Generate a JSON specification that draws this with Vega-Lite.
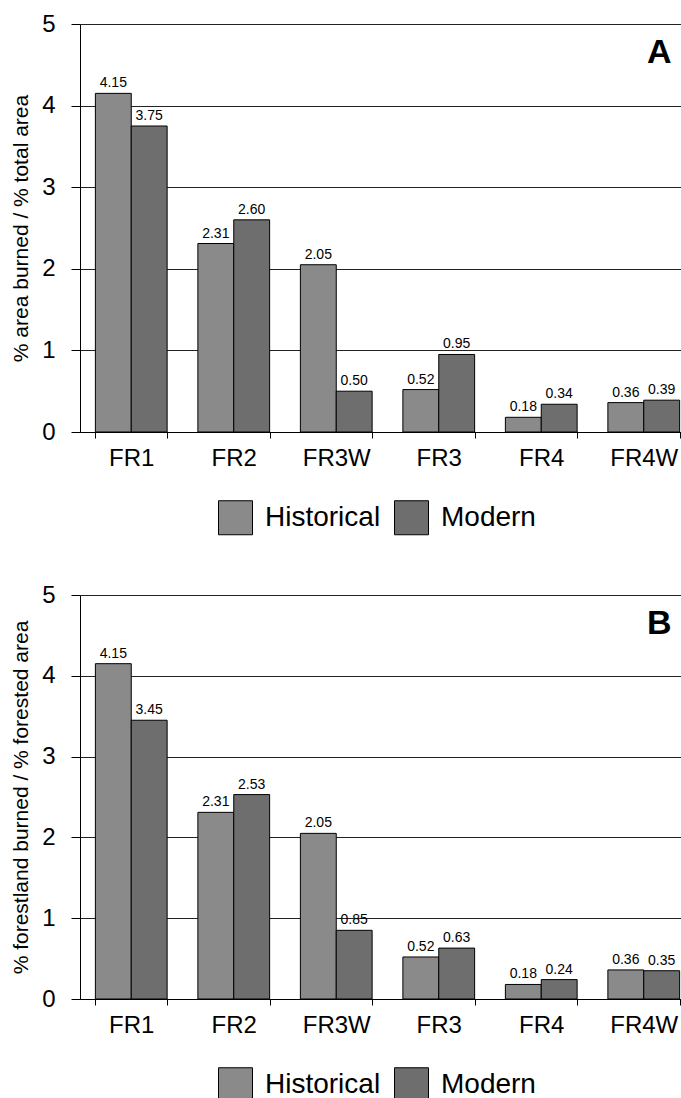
{
  "$schema": "https://vega.github.io/schema/vega-lite/v6.json",
  "background": "white",
  "padding": {"left": 10, "top": 12, "right": 0, "bottom": 0},
  "config": {
    "font": "Liberation Sans",
    "view": {"stroke": null},
    "concat": {"spacing": 46},
    "axis": {"domainColor": "black", "tickColor": "black", "labelColor": "black", "titleColor": "black", "gridColor": "#222222"},
    "legend": {"padding": 0}
  },
  "resolve": {"scale": {"fill": "independent"}, "legend": {"fill": "independent"}},
  "vconcat": [
    {
      "width": 615,
      "height": 408,
      "data": {"values": [
        {"region": "FR1", "period": "Historical", "value": 4.15},
        {"region": "FR1", "period": "Modern", "value": 3.75},
        {"region": "FR2", "period": "Historical", "value": 2.31},
        {"region": "FR2", "period": "Modern", "value": 2.60},
        {"region": "FR3W", "period": "Historical", "value": 2.05},
        {"region": "FR3W", "period": "Modern", "value": 0.50},
        {"region": "FR3", "period": "Historical", "value": 0.52},
        {"region": "FR3", "period": "Modern", "value": 0.95},
        {"region": "FR4", "period": "Historical", "value": 0.18},
        {"region": "FR4", "period": "Modern", "value": 0.34},
        {"region": "FR4W", "period": "Historical", "value": 0.36},
        {"region": "FR4W", "period": "Modern", "value": 0.39}
      ]},
      "layer": [
        {
          "mark": {"type": "bar", "stroke": "black", "strokeWidth": 1},
          "encoding": {
            "x": {"field": "region", "type": "nominal", "sort": ["FR1", "FR2", "FR3W", "FR3", "FR4", "FR4W"],
              "scale": {"paddingInner": 0.3, "paddingOuter": 0.15},
              "axis": {"title": null, "labelAngle": 0, "labelFontSize": 24, "tickBand": "extent", "tickSize": 6, "labelPadding": 8, "grid": false}},
            "xOffset": {"field": "period", "type": "nominal", "sort": ["Historical", "Modern"], "scale": {"paddingInner": 0, "paddingOuter": 0}},
            "y": {"field": "value", "type": "quantitative", "scale": {"domain": [0, 5], "nice": false},
              "axis": {"title": "% area burned / % total area", "titleFontSize": 21, "titleFontWeight": "normal", "titlePadding": 10,
                "values": [0, 0.5, 1, 1.5, 2, 2.5, 3, 3.5, 4, 4.5, 5], "format": "d",
                "labelExpr": "datum.value % 1 === 0 ? datum.label : ''",
                "labelFontSize": 24, "labelPadding": 16, "grid": true,
                "gridOpacity": {"condition": {"test": "datum.value % 1 !== 0", "value": 0}, "value": 1},
                "tickSize": {"condition": {"test": "datum.value % 1 !== 0", "value": 5}, "value": 9}}},
            "fill": {"field": "period", "type": "nominal", "scale": {"domain": ["Historical", "Modern"], "range": ["#8a8a8a", "#6e6e6e"]},
              "legend": {"title": null, "orient": "none", "legendX": 138, "legendY": 476, "direction": "horizontal",
                "symbolType": "square", "symbolSize": 1156, "symbolStrokeColor": "black", "symbolStrokeWidth": 1,
                "labelFontSize": 28, "labelColor": "black", "labelOffset": 12, "columnPadding": 11}}
          }
        },
        {
          "mark": {"type": "text", "baseline": "alphabetic", "dy": -6, "fontSize": 14, "color": "black"},
          "encoding": {
            "x": {"field": "region", "type": "nominal", "sort": ["FR1", "FR2", "FR3W", "FR3", "FR4", "FR4W"]},
            "xOffset": {"field": "period", "type": "nominal", "sort": ["Historical", "Modern"]},
            "y": {"field": "value", "type": "quantitative"},
            "text": {"field": "value", "type": "quantitative", "format": ".2f"}
          }
        },
        {
          "data": {"values": [{"label": "A"}]},
          "mark": {"type": "text", "align": "right", "baseline": "alphabetic", "fontSize": 34, "fontWeight": "bold", "color": "black", "dx": -8},
          "encoding": {
            "x": {"datum": "FR4W", "bandPosition": 1},
            "y": {"datum": 4.52},
            "text": {"field": "label"}
          }
        }
      ]
    },
    {
      "width": 615,
      "height": 404,
      "data": {"values": [
        {"region": "FR1", "period": "Historical", "value": 4.15},
        {"region": "FR1", "period": "Modern", "value": 3.45},
        {"region": "FR2", "period": "Historical", "value": 2.31},
        {"region": "FR2", "period": "Modern", "value": 2.53},
        {"region": "FR3W", "period": "Historical", "value": 2.05},
        {"region": "FR3W", "period": "Modern", "value": 0.85},
        {"region": "FR3", "period": "Historical", "value": 0.52},
        {"region": "FR3", "period": "Modern", "value": 0.63},
        {"region": "FR4", "period": "Historical", "value": 0.18},
        {"region": "FR4", "period": "Modern", "value": 0.24},
        {"region": "FR4W", "period": "Historical", "value": 0.36},
        {"region": "FR4W", "period": "Modern", "value": 0.35}
      ]},
      "layer": [
        {
          "mark": {"type": "bar", "stroke": "black", "strokeWidth": 1},
          "encoding": {
            "x": {"field": "region", "type": "nominal", "sort": ["FR1", "FR2", "FR3W", "FR3", "FR4", "FR4W"],
              "scale": {"paddingInner": 0.3, "paddingOuter": 0.15},
              "axis": {"title": null, "labelAngle": 0, "labelFontSize": 24, "tickBand": "extent", "tickSize": 6, "labelPadding": 8, "grid": false}},
            "xOffset": {"field": "period", "type": "nominal", "sort": ["Historical", "Modern"], "scale": {"paddingInner": 0, "paddingOuter": 0}},
            "y": {"field": "value", "type": "quantitative", "scale": {"domain": [0, 5], "nice": false},
              "axis": {"title": "% forestland burned / % forested area", "titleFontSize": 21, "titleFontWeight": "normal", "titlePadding": 10,
                "values": [0, 0.5, 1, 1.5, 2, 2.5, 3, 3.5, 4, 4.5, 5], "format": "d",
                "labelExpr": "datum.value % 1 === 0 ? datum.label : ''",
                "labelFontSize": 24, "labelPadding": 16, "grid": true,
                "gridOpacity": {"condition": {"test": "datum.value % 1 !== 0", "value": 0}, "value": 1},
                "tickSize": {"condition": {"test": "datum.value % 1 !== 0", "value": 5}, "value": 9}}},
            "fill": {"field": "period", "type": "nominal", "scale": {"domain": ["Historical", "Modern"], "range": ["#8a8a8a", "#6e6e6e"]},
              "legend": {"title": null, "orient": "none", "legendX": 138, "legendY": 472, "direction": "horizontal",
                "symbolType": "square", "symbolSize": 1156, "symbolStrokeColor": "black", "symbolStrokeWidth": 1,
                "labelFontSize": 28, "labelColor": "black", "labelOffset": 12, "columnPadding": 11}}
          }
        },
        {
          "mark": {"type": "text", "baseline": "alphabetic", "dy": -6, "fontSize": 14, "color": "black"},
          "encoding": {
            "x": {"field": "region", "type": "nominal", "sort": ["FR1", "FR2", "FR3W", "FR3", "FR4", "FR4W"]},
            "xOffset": {"field": "period", "type": "nominal", "sort": ["Historical", "Modern"]},
            "y": {"field": "value", "type": "quantitative"},
            "text": {"field": "value", "type": "quantitative", "format": ".2f"}
          }
        },
        {
          "data": {"values": [{"label": "B"}]},
          "mark": {"type": "text", "align": "right", "baseline": "alphabetic", "fontSize": 34, "fontWeight": "bold", "color": "black", "dx": -8},
          "encoding": {
            "x": {"datum": "FR4W", "bandPosition": 1},
            "y": {"datum": 4.52},
            "text": {"field": "label"}
          }
        }
      ]
    }
  ]
}
